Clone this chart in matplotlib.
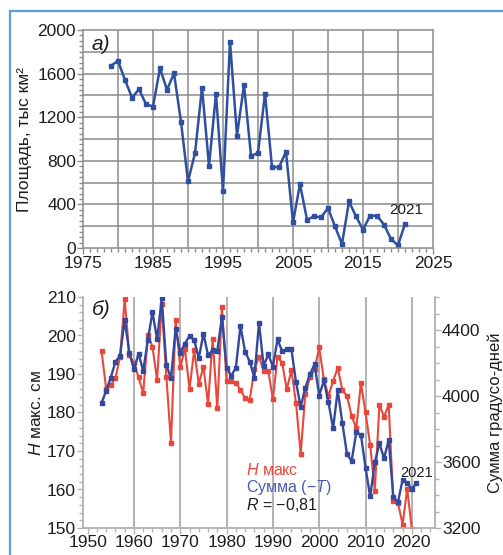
import numpy as np
import matplotlib
matplotlib.use("Agg")
import matplotlib.pyplot as plt
from matplotlib.patches import Rectangle
from matplotlib.ticker import MultipleLocator

plt.rcParams['font.family'] = ['Liberation Sans', 'DejaVu Sans']
plt.rcParams['mathtext.fontset'] = 'custom'
plt.rcParams['mathtext.it'] = 'Liberation Sans:italic'
plt.rcParams['mathtext.rm'] = 'Liberation Sans'

# а) площадь, тыс км2
years_a = np.arange(1979, 2022)
area = [1673, 1716, 1542, 1380, 1456, 1319, 1298, 1649, 1450, 1603,
        1157, 611, 870, 1472, 754, 1414, 519, 1893, 1032, 1496,
        846, 870, 1417, 742, 742, 882, 235, 586, 260, 290,
        281, 366, 198, 37, 427, 290, 168, 296, 296, 214,
        82, 24, 223]

# б) H макс (см) и сумма градусо-дней
years_h = np.arange(1953, 2021)
h_max = [196.0, 186.2, 187.2, 188.9, 194.5, 209.4, 194.9, 192.9, 189.1, 185.0,
         200.1, 197.1, 188.4, 208.3, 189.3, 172.1, 204.1, 191.7, 196.6, 186.1,
         196.2, 187.4, 191.9, 182.2, 199.0, 181.1, 207.4, 188.3, 188.2, 187.6,
         185.9, 183.7, 183.3, 191.2, 194.5, 190.8, 190.8, 183.4, 194.5, 192.9,
         186.0, 191.0, 182.4, 169.3, 184.8, 189.1, 191.3, 196.9, 188.6, 184.3,
         188.2, 191.6, 185.8, 184.3, 179.1, 175.9, 187.6, 180.0, 171.6, 159.7,
         182.0, 178.9, 182.0, 156.9, 156.6, 150.9, 160.2, 149.7]

years_s = np.arange(1953, 2022)
deg_sum = [3956, 4033, 4112, 4208, 4243, 4462, 4262, 4161, 4257, 4152,
           4339, 4509, 4343, 4591, 4187, 4108, 4409, 4262, 4318, 4364,
           4339, 4229, 4378, 4248, 4278, 4273, 4479, 4171, 4122, 4171,
           4423, 4269, 4208, 4112, 4444, 4182, 4252, 4178, 4343, 4271,
           4283, 4283, 4082, 3935, 4049, 4133, 4192, 4003, 4094, 3961,
           3804, 4035, 3835, 3648, 3606, 3779, 3765, 3566, 3391, 3597,
           3713, 3622, 3734, 3387, 3356, 3492, 3473, 3436, 3473]

blue = '#34489c'
red = '#e8473b'
txt = '#1e1e1e'
grid_c = '#8c8c8c'

fig = plt.figure(figsize=(5.03, 5.55), dpi=100)

# рамка
fig.patches.append(Rectangle((10 / 503, -0.1), 1.2, 1 - 11 / 555 + 0.1,
                             transform=fig.transFigure, fill=False,
                             edgecolor='#5a9fd8', lw=1.6))

# ---- верхний график
ax1 = fig.add_axes([83 / 503, 1 - 248 / 555, 350 / 503, 218 / 555])
ax1.plot(years_a, area, color='#2f4f9f', lw=1.8, marker='s', ms=3.4)
ax1.set_xlim(1975, 2025)
ax1.set_ylim(0, 2000)
ax1.set_xticks(np.arange(1975, 2026, 10))
ax1.xaxis.set_minor_locator(MultipleLocator(1))
ax1.set_yticks(np.arange(0, 2001, 400))
ax1.yaxis.set_minor_locator(MultipleLocator(50))
for v in np.arange(1980, 2025, 5):
    ax1.axvline(v, color=grid_c, lw=1.1, zorder=0)
for v in np.arange(200, 2000, 200):
    ax1.axhline(v, color=grid_c, lw=1.1, zorder=0)
ax1.tick_params(labelsize=12.5, colors=grid_c, labelcolor=txt, length=4, width=1, pad=1)
ax1.tick_params(axis='x', pad=2)
ax1.tick_params(which='minor', colors=grid_c, length=3, width=1)
for s in ax1.spines.values():
    s.set_color(grid_c)
    s.set_linewidth(1.1)
ax1.set_ylabel('Площадь, тыс км²', fontsize=12.5, color=txt, labelpad=4)
ax1.text(0.025, 0.975, 'а)', transform=ax1.transAxes, fontsize=15,
         style='italic', color=txt, va='top', ha='left')
ax1.text(2021.2, area[-1] + 60, '2021', fontsize=11, color=txt, ha='center', va='bottom')

# ---- нижний график
ax2 = fig.add_axes([83 / 503, 1 - 528 / 555, 352 / 503, 231 / 555])
ax3 = ax2.twinx()
ax2.plot(years_h, h_max, color=red, lw=1.5, marker='s', ms=2.8, zorder=3)
ax3.plot(years_s, deg_sum, color=blue, lw=1.7, marker='s', ms=3.0, zorder=4)
ax2.set_xlim(1949, 2025)
ax2.set_ylim(150, 210)
ax3.set_ylim(3200, 4600)
ax2.set_xticks(np.arange(1950, 2021, 10))
ax2.xaxis.set_minor_locator(MultipleLocator(2))
ax2.set_yticks(np.arange(150, 211, 10))
ax2.yaxis.set_minor_locator(MultipleLocator(2))
ax3.set_yticks(np.arange(3200, 4401, 400))
ax3.yaxis.set_minor_locator(MultipleLocator(100))
for v in np.arange(1960, 2021, 10):
    ax2.axvline(v, color='#a6a6a6', lw=1.2, zorder=0)
light = '#b4b4b4'
for a in (ax2, ax3):
    a.tick_params(labelsize=12.5, colors=light, labelcolor=txt, length=4, width=1, pad=1)
    a.tick_params(which='minor', colors=light, length=3, width=1)
    for s in a.spines.values():
        s.set_color(light)
        s.set_linewidth(1.1)
ax2.spines['top'].set_visible(False)
ax3.spines['top'].set_visible(False)
ax2.set_ylabel('$\\mathit{H}$ макс. см', fontsize=12.5, color=txt, labelpad=2)
ax3.set_ylabel('Сумма градусо-дней', fontsize=12, color=txt, labelpad=5)
ax2.text(0.025, 0.985, 'б)', transform=ax2.transAxes, fontsize=15,
         style='italic', color=txt, va='top', ha='left')
ax3.text(years_s[-1], deg_sum[-1] + 20, '2021', fontsize=10.5, color=txt,
         ha='center', va='bottom')
ax2.text(1984.2, 165.0, '$\\mathit{H}$ макс', fontsize=11.5, color=red, ha='left', va='center')
ax2.text(1984.2, 160.4, 'Сумма (−$\\mathit{T}$)', fontsize=11.5, color='#4a5ab0', ha='left', va='center')
ax2.text(1984.2, 156.0, '$\\mathit{R}$ = −0,81', fontsize=11.5, color=txt, ha='left', va='center')

fig.savefig('out.png', dpi=100)
